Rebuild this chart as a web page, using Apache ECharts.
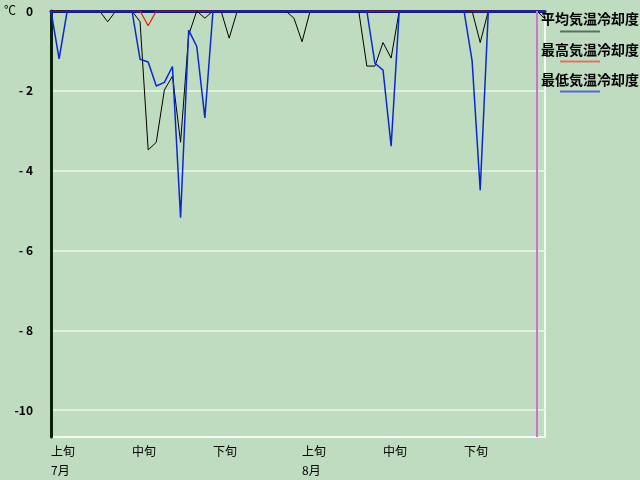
<!DOCTYPE html>
<html><head><meta charset="utf-8">
<script src="https://cdn.jsdelivr.net/npm/echarts@6/dist/echarts.min.js"></script>
<style>html,body{margin:0;padding:0;background:#c0dcc0}#c{width:640px;height:480px}</style>
</head><body><div id="c"></div>
<script>
const categories = [
 '7/1','7/2','7/3','7/4','7/5','7/6','7/7','7/8','7/9','7/10',
 '7/11','7/12','7/13','7/14','7/15','7/16','7/17','7/18','7/19','7/20',
 '7/21','7/22','7/23','7/24','7/25','7/26','7/27','7/28','7/29','7/30','7/31',
 '8/1','8/2','8/3','8/4','8/5','8/6','8/7','8/8','8/9','8/10',
 '8/11','8/12','8/13','8/14','8/15','8/16','8/17','8/18','8/19','8/20',
 '8/21','8/22','8/23','8/24','8/25','8/26','8/27','8/28','8/29','8/30','8/31'
];
const avgCooling = [
 0,0,0,0,0,0,0,-0.27,0,0,
 0,-0.27,-3.48,-3.29,-1.98,-1.63,-3.29,-0.6,0,-0.18,
 0,0,-0.68,0,0,0,0,0,0,0,
 -0.18,-0.77,0,0,0,0,0,0,0,-1.38,
 -1.38,-0.79,-1.18,0,0,0,0,0,0,0,
 0,0,0,-0.79,0,0,0,0,0,0,
 0,-0.2
];
const maxCooling = [
 0,0,0,0,0,0,0,0,0,0,
 0,0,-0.37,0,0,0,0,0,0,0,
 0,0,0,0,0,0,0,0,0,0,
 0,0,0,0,0,0,0,0,0,0,
 0,0,0,0,0,0,0,0,0,0,
 0,0,0,0,0,0,0,0,0,0,
 0,0
];
const minCooling = [
 0,-1.2,0,0,0,0,0,0,0,0,
 0,-1.21,-1.28,-1.88,-1.79,-1.39,-5.18,-0.48,-0.89,-2.68,
 0,0,0,0,0,0,0,0,0,0,
 0,0,0,0,0,0,0,0,0,0,
 -1.31,-1.48,-3.39,0,0,0,0,0,0,0,
 0,0,-1.25,-4.49,0,0,0,0,0,0,
 0,0
];
const seriesNames = ['平均気温冷却度','最高気温冷却度','最低気温冷却度'];
const labelDays = ['7/1','7/11','7/21','8/1','8/11','8/21'];
const labelTexts = ['上旬\n7月','中旬','下旬','上旬\n8月','中旬','下旬'];
const yTickValues = [0,-2,-4,-6,-8,-10];
const yTickLabels = ['0','- 2','- 4','- 6','- 8','-10'];
const currentDay = '8/30';
const yMin = -10.675, yMax = 0;

const FONT = "'Noto Sans CJK JP', sans-serif";
const chart = echarts.init(document.getElementById('c'), null, {renderer:'canvas'});
const legendColors = ['#5c6e5c','#e07068','#5468d8'];
const legendGraphics = [];
seriesNames.forEach((n,i)=>{
  legendGraphics.push({type:'text', left:541, top:12+i*30.5, style:{text:n, font:"bold 14px "+FONT, fill:'#000'}});
  legendGraphics.push({type:'line', shape:{x1:560,y1:31.5+i*30,x2:600,y2:31.5+i*30}, style:{stroke:legendColors[i], lineWidth:2}});
});
legendGraphics.push({type:'text', left:4, top:4, style:{text:'℃', font:"12px "+FONT, fill:'#000'}});

chart.setOption({
  backgroundColor:'#c0dcc0',
  animation:false,
  textStyle:{fontFamily:FONT},
  grid:{left:51, right:95, top:11, bottom:42, show:true, borderColor:'#f4faf2', borderWidth:2, backgroundColor:'transparent'},
  xAxis:[{
    type:'category', data:categories, boundaryGap:false,
    axisLine:{show:false}, axisTick:{show:false}, splitLine:{show:false},
    axisLabel:{
      interval:(i,v)=>labelDays.indexOf(v)>=0,
      formatter:v=>{const k=labelDays.indexOf(v);return k>=0?labelTexts[k]:'';},
      align:'left', verticalAlign:'top', lineHeight:19, margin:5, fontSize:12, color:'#000', fontFamily:FONT
    }
  },{
    type:'category', data:categories, boundaryGap:false, position:'top',
    axisLine:{show:true, lineStyle:{color:'#101a70', width:3}}, axisTick:{show:false}, axisLabel:{show:false}
  }],
  yAxis:{
    type:'value', min:yMin, max:yMax,
    axisLine:{show:true, lineStyle:{color:'#0a200a', width:3}},
    axisTick:{show:false, customValues:yTickValues},
    axisLabel:{customValues:yTickValues, formatter:v=>{const k=yTickValues.indexOf(v);return k>=0?yTickLabels[k]:'';},
      fontWeight:'bold', fontSize:12, color:'#000', margin:18, fontFamily:FONT},
    splitLine:{show:true, lineStyle:{color:'#e2efdf', width:2}}
  },
  graphic:legendGraphics,
  series:[
    {name:seriesNames[0], type:'line', data:avgCooling, symbol:'none', lineStyle:{color:'#000', width:1}, z:2},
    {name:seriesNames[1], type:'line', data:maxCooling, symbol:'none', lineStyle:{color:'#e81808', width:1.2}, z:3},
    {name:seriesNames[2], type:'line', data:minCooling, symbol:'none', lineStyle:{color:'#0a28d0', width:1.5}, z:4,
      markLine:{silent:true, symbol:'none', label:{show:false}, emphasis:{disabled:true},
        lineStyle:{color:'#d070d0', width:2, type:'solid'},
        data:[{xAxis:currentDay}]}}
  ]
});
</script></body></html>
